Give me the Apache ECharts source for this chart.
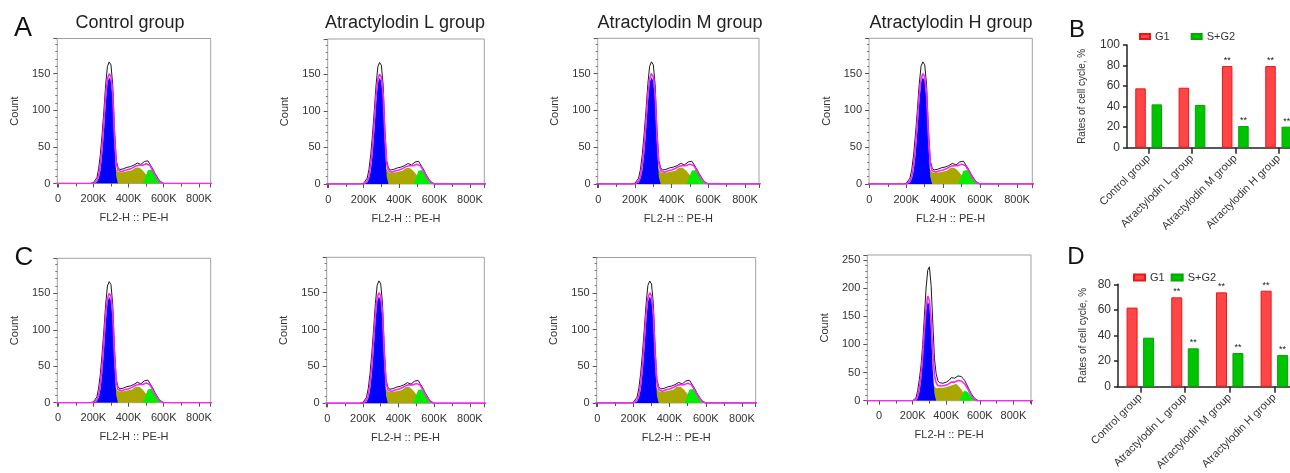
<!DOCTYPE html>
<html><head><meta charset="utf-8">
<script src="https://cdn.jsdelivr.net/npm/echarts@6/dist/echarts.min.js"></script>
<style>html,body{margin:0;padding:0;background:#fff}#c{width:1290px;height:473px}</style>
</head><body><div id="c"></div>
<script>
// ---------- histogram data (x in K units, counts) ----------
const histX = [-100,180,190,200,210,220,230,240,250,260,270,280,290,300,310,320,330,340,350,360,370,380,390,400,410,420,430,440,450,460,470,480,490,500,510,520,530,540,550,560,570,580,590,600,1000];

const ctrlTotal = [0, 0,0,1,3,8,20,40,68,100,135,160,166,162,135,75,32,22,19,19,20,21,22,22,23,23,25,27,28,27,26,28,30,31,31,27,23,19,14,10,6,3,1,0, 0];
const ctrlFit   = [0, 0,0,0,1,4,10,26,50,85,120,143,150,146,122,65,28,18,16,16,17,18,18,19,20,21,22,24,25,25,24,25,27,27,27,25,21,17,12,8,5,2,0,0, 0];
const ctrlG1    = [0, 0,0,0,0,2,7,18,40,72,110,138,145,140,115,55,10,0,0,0,0,0,0,0,0,0,0,0,0,0,0,0,0,0,0,0,0,0,0,0,0,0,0,0, 0];
const ctrlS     = [0, 0,0,0,0,0,0,0,0,0,4,10,16,20,22,23,22,16,14,15,15,16,16,17,17,18,19,22,24,22,20,18,15,12,9,6,4,2,1,0,0,0,0,0, 0];
const ctrlG2    = [0, 0,0,0,0,0,0,0,0,0,0,0,0,0,0,0,0,0,0,0,0,0,0,0,0,0,0,0,0,0,0,0,5,12,18,20,19,16,12,8,4,2,0,0, 0];

const hTotal = [0, 0,0,0,1,5,18,38,62,100,150,200,232,238,205,140,75,48,36,32,31,31,32,33,34,37,41,42,40,42,44,44,43,40,36,30,24,18,12,8,4,1,0,0, 0];
const hFit   = [0, 0,0,0,0,2,8,22,45,80,125,165,186,178,145,85,45,32,27,26,26,26,27,28,29,31,33,34,33,34,36,36,35,33,30,25,20,14,9,5,2,0,0,0, 0];
const hG1    = [0, 0,0,0,0,0,5,15,36,72,122,162,176,170,125,55,12,0,0,0,0,0,0,0,0,0,0,0,0,0,0,0,0,0,0,0,0,0,0,0,0,0,0,0, 0];
const hS     = [0, 0,0,0,0,0,0,0,0,0,0,0,10,20,30,30,26,22,22,23,23,23,24,24,25,26,27,28,29,30,28,24,20,15,10,6,3,1,0,0,0,0,0,0, 0];
const hG2    = [0, 0,0,0,0,0,0,0,0,0,0,0,0,0,0,0,0,0,0,0,0,0,0,0,0,0,0,0,0,0,0,0,6,14,18,18,15,11,7,4,2,1,0,0, 0];

const histTitles = ['Control group','Atractylodin L group','Atractylodin M group','Atractylodin H group'];

// ---------- bar chart data ----------
const cats = ['Control group','Atractylodin L group','Atractylodin M group','Atractylodin H group'];
const bG1  = [57.8, 58.4, 79.5, 79.5];
const bSG2 = [42.2, 41.6, 21.1, 20.5];
const bG1Sig  = ['', '', '**', '**'];
const bSG2Sig = ['', '', '**', '**'];
const dG1  = [61.8, 69.8, 73.7, 75.0];
const dSG2 = [38.3, 30.0, 26.3, 24.8];
const dG1Sig  = ['', '**', '**', '**'];
const dSG2Sig = ['', '**', '**', '**'];

const sets = {
  ctrl: {total: ctrlTotal, fit: ctrlFit, g1: ctrlG1, s: ctrlS, g2: ctrlG2},
  h:    {total: hTotal, fit: hFit, g1: hG1, s: hS, g2: hG2}
};

// panel layout (pixels) and axis extents
const panels = [
  {l:57.3,  t:38.5,  w:153.4, h:145,   xmin:-5,  xmax:867, ymax:198, d:'ctrl'},
  {l:327.7, t:39,    w:156.6, h:145,   xmin:-3,  xmax:881, ymax:198, d:'ctrl'},
  {l:597.7, t:38.3,  w:161.3, h:145.7, xmin:-3,  xmax:876, ymax:198, d:'ctrl'},
  {l:869,   t:38.3,  w:163.3, h:145.7, xmin:-2,  xmax:883, ymax:198, d:'ctrl'},
  {l:57.3,  t:258.3, w:153.4, h:144.4, xmin:-5,  xmax:867, ymax:198, d:'ctrl'},
  {l:326.7, t:257.3, w:157.6, h:146,   xmin:-3,  xmax:881, ymax:198, d:'ctrl'},
  {l:596.7, t:257.5, w:159,   h:145.5, xmin:-3,  xmax:876, ymax:198, d:'ctrl'},
  {l:867.3, t:255,   w:163.7, h:145.7, xmin:-70, xmax:905, ymax:259, d:'h'}
];

const FONT = '"Liberation Sans", Arial, Helvetica, sans-serif';
const grid = [], xAxis = [], yAxis = [], series = [];

panels.forEach((p, i) => {
  grid.push({left:p.l, top:p.t, width:p.w, height:p.h, show:true, borderColor:'#a0a0a0', borderWidth:1,
             containLabel:false, outerBoundsMode:'none'});
  xAxis.push({type:'value', gridIndex:i, min:p.xmin, max:p.xmax, splitNumber:4, minInterval:200, maxInterval:200,
    axisLine:{show:false, onZero:false}, splitLine:{show:false},
    axisTick:{show:true, length:4, lineStyle:{color:'#555', width:1}},
    minorTick:{show:true, splitNumber:2, length:3, lineStyle:{color:'#555', width:1}},
    axisLabel:{fontFamily:FONT, fontSize:11, color:'#333', margin:10,
      formatter: v => (v >= 0 && Math.abs(v % 200) < 1e-6) ? (v === 0 ? '0' : Math.round(v) + 'K') : ''},
    name:'FL2-H :: PE-H', nameLocation:'middle', nameGap:29,
    nameTextStyle:{fontFamily:FONT, fontSize:11, color:'#333'}
  });
  yAxis.push({type:'value', gridIndex:i, min:0, max:p.ymax, interval:50,
    axisLine:{show:false, onZero:false}, splitLine:{show:false},
    axisTick:{show:true, length:4, lineStyle:{color:'#555', width:1}},
    minorTick:{show:true, splitNumber:5, length:2, lineStyle:{color:'#777', width:1}},
    axisLabel:{fontFamily:FONT, fontSize:11, color:'#333', margin:7,
      formatter: v => (Math.abs(v % 50) < 1e-6) ? String(Math.round(v)) : ''},
    name:'Count', nameLocation:'middle', nameGap:37, nameRotate:90,
    nameTextStyle:{fontFamily:FONT, fontSize:11, color:'#333'}
  });
  const d = sets[p.d];
  const pts = arr => histX.map((x, j) => [x, arr[j]]);
  const area = (arr, color) => ({type:'line', xAxisIndex:i, yAxisIndex:i, data:pts(arr), showSymbol:false, symbol:'none',
    lineStyle:{width:0}, areaStyle:{color:color, opacity:1}, itemStyle:{color:color}, silent:true, clip:true, animation:false});
  series.push(area(d.s, '#aaa800'));
  series.push(area(d.g1, '#0000ff'));
  series.push(area(d.g2, '#00ee00'));
  series.push({type:'line', xAxisIndex:i, yAxisIndex:i, data:pts(d.total), showSymbol:false, symbol:'none',
    lineStyle:{width:1, color:'#1a1a1a'}, silent:true, clip:true, animation:false, z:3});
  series.push({type:'line', xAxisIndex:i, yAxisIndex:i, data:pts(d.fit), showSymbol:false, symbol:'none',
    lineStyle:{width:1.6, color:'#ff22ff'}, silent:true, clip:true, animation:false, z:4});
});

// ---------- bar charts ----------
const barCharts = [
  {l:1127, t:45, w:173.3, h:102.7, max:100, g1:bG1, sg2:bSG2, s1:bG1Sig, s2:bSG2Sig, bw:10.5, gap:'55%', nameGap:40},
  {l:1118, t:284.3, w:178.7, h:102.4, max:80, g1:dG1, sg2:dSG2, s1:dG1Sig, s2:dSG2Sig, bw:11, gap:'50%', nameGap:30}
];
barCharts.forEach((b, k) => {
  const gi = panels.length + k;
  grid.push({left:b.l, top:b.t, width:b.w, height:b.h, show:false, containLabel:false, outerBoundsMode:'none'});
  xAxis.push({type:'category', gridIndex:gi, data:cats,
    axisLine:{show:true, onZero:false, lineStyle:{color:'#222', width:1.5}},
    axisTick:{show:true, alignWithLabel:true, length:6, lineStyle:{color:'#222', width:1.5}},
    axisLabel:{fontFamily:FONT, fontSize:11, color:'#333', rotate:45, margin:9, interval:0}
  });
  yAxis.push({type:'value', gridIndex:gi, min:0, max:b.max, interval:20,
    axisLine:{show:true, onZero:false, lineStyle:{color:'#222', width:1.5}},
    axisTick:{show:true, length:4, lineStyle:{color:'#222', width:1.5}},
    splitLine:{show:false},
    axisLabel:{fontFamily:FONT, fontSize:12, color:'#333', margin:7},
    name:'Rates of cell cycle, %', nameLocation:'middle', nameGap:b.nameGap, nameRotate:90,
    nameTextStyle:{fontFamily:FONT, fontSize:10, color:'#333'}
  });
  const sigLabel = arr => ({show:true, position:'top', distance:1, fontFamily:FONT, fontSize:9, color:'#222',
    formatter: p => arr[p.dataIndex]});
  series.push({type:'bar', name:'G1', xAxisIndex:gi, yAxisIndex:gi, data:b.g1, barWidth:b.bw, barGap:b.gap,
    itemStyle:{color:'#ff4646', borderColor:'#e81818', borderWidth:1}, label:sigLabel(b.s1), animation:false});
  series.push({type:'bar', name:'S+G2', xAxisIndex:gi, yAxisIndex:gi, data:b.sg2, barWidth:b.bw, barGap:b.gap,
    itemStyle:{color:'#00c400', borderColor:'#00a800', borderWidth:1}, label:sigLabel(b.s2), animation:false});
});

// ---------- texts ----------
const graphic = [];
const titleX = [130, 405, 680, 951];
histTitles.forEach((t, i) => graphic.push({type:'text', x:titleX[i], y:23,
  style:{text:t, font:'18px ' + FONT, fill:'#222', textAlign:'center', textVerticalAlign:'middle'}}));
[['A', 23, 29, 27], ['C', 24, 258, 26], ['B', 1077, 30, 24], ['D', 1076, 257, 24]].forEach(a =>
  graphic.push({type:'text', x:a[1], y:a[2],
    style:{text:a[0], font:a[3] + 'px ' + FONT, fill:'#111', textAlign:'center', textVerticalAlign:'middle'}}));

const chart = echarts.init(document.getElementById('c'), null, {renderer:'canvas'});
chart.setOption({
  animation:false,
  backgroundColor:'#fff',
  grid, xAxis, yAxis, series, graphic,
  legend:[
    {data:['G1','S+G2'], left:1134, top:26, icon:'rect', itemWidth:10, itemHeight:5, itemGap:21,
     textStyle:{fontFamily:FONT, fontSize:11, color:'#333'}, selectedMode:false},
    {data:['G1','S+G2'], left:1128, top:267, icon:'rect', itemWidth:11, itemHeight:6, itemGap:6,
     textStyle:{fontFamily:FONT, fontSize:11, color:'#333'}, selectedMode:false}
  ]
});
</script></body></html>
